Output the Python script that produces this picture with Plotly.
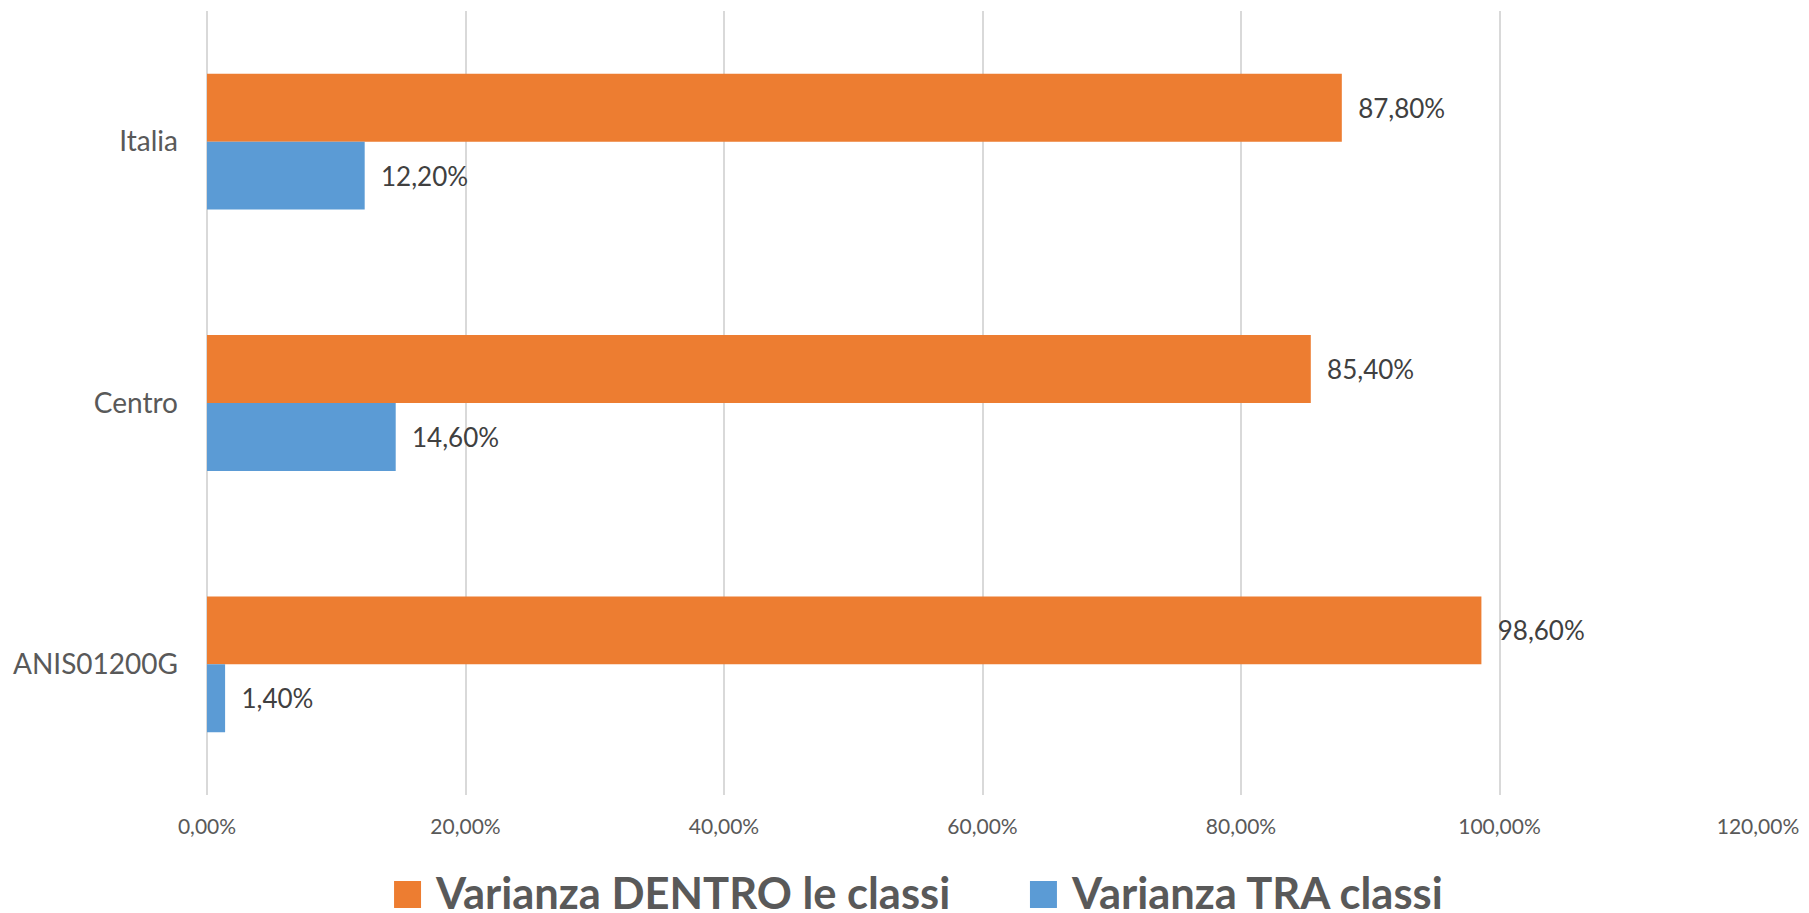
import plotly.graph_objects as go

categories = ["Italia", "Centro", "ANIS01200G"]
dentro_values = [0.878, 0.854, 0.986]
tra_values = [0.122, 0.146, 0.014]
series_names = ["Varianza DENTRO le classi", "Varianza TRA classi"]
x_tick_values = [0, 0.2, 0.4, 0.6, 0.8, 1.0, 1.2]

ORANGE = "#ED7D31"
BLUE = "#5B9BD5"
FONT = "Lato"
PAD = "\u00a0\u00a0"

fig = go.Figure()
fig.add_trace(go.Bar(
    y=categories, x=dentro_values, orientation="h", name=series_names[0],
    marker=dict(color=ORANGE, line=dict(width=0)),
    texttemplate=PAD + "%{x:.2%}", textposition="outside", cliponaxis=False,
    constraintext="none",
    textfont=dict(family=FONT, size=26, color="#404040"),
    showlegend=False, hoverinfo="skip",
))
fig.add_trace(go.Bar(
    y=categories, x=tra_values, orientation="h", name=series_names[1],
    marker=dict(color=BLUE, line=dict(width=0)),
    texttemplate=PAD + "%{x:.2%}", textposition="outside", cliponaxis=False,
    constraintext="none",
    textfont=dict(family=FONT, size=26, color="#404040"),
    showlegend=False, hoverinfo="skip",
))

# custom legend (large square swatches like the reference)
legend_items = [
    (series_names[0], ORANGE, 0.1206, 0.1380, 0.1464),
    (series_names[1], BLUE, 0.5306, 0.5480, 0.5564),
]
for name, color, sx0, sx1, tx in legend_items:
    fig.add_shape(type="rect", xref="paper", yref="paper",
                  x0=sx0, x1=sx1, y0=-0.1441, y1=-0.1097,
                  fillcolor=color, line=dict(width=0))
    fig.add_annotation(xref="paper", yref="paper", x=tx, y=-0.1236,
                       xanchor="left", yanchor="middle", showarrow=False,
                       borderpad=0,
                       text="<b>" + name + "</b>",
                       font=dict(family=FONT, size=43.5, color="#595959"))

fig.update_layout(
    width=1809, height=913,
    margin=dict(l=207, r=51, t=11, b=118),
    paper_bgcolor="white", plot_bgcolor="white",
    barmode="group", bargap=0.48, bargroupgap=0,
    separators=",.",
    font=dict(family=FONT, color="#595959"),
    showlegend=False,
)
fig.update_xaxes(
    range=[0, 1.2], tickvals=x_tick_values, tickformat=".2%",
    showgrid=True, gridcolor="#D9D9D9", gridwidth=2,
    zeroline=True, zerolinecolor="#D9D9D9", zerolinewidth=2,
    showline=False, ticks="", ticklabelstandoff=17,
    tickfont=dict(family=FONT, size=21, color="#595959"),
)
fig.update_yaxes(
    categoryorder="array", categoryarray=categories, autorange="reversed",
    showgrid=False, zeroline=False, showline=False, ticks="",
    ticklabelstandoff=28,
    tickfont=dict(family=FONT, size=28, color="#595959"),
)

fig.write_html(
    "out.html",
    config={"displayModeBar": False},
    post_script="document.body.style.margin='0';document.body.style.overflow='hidden';",
)
